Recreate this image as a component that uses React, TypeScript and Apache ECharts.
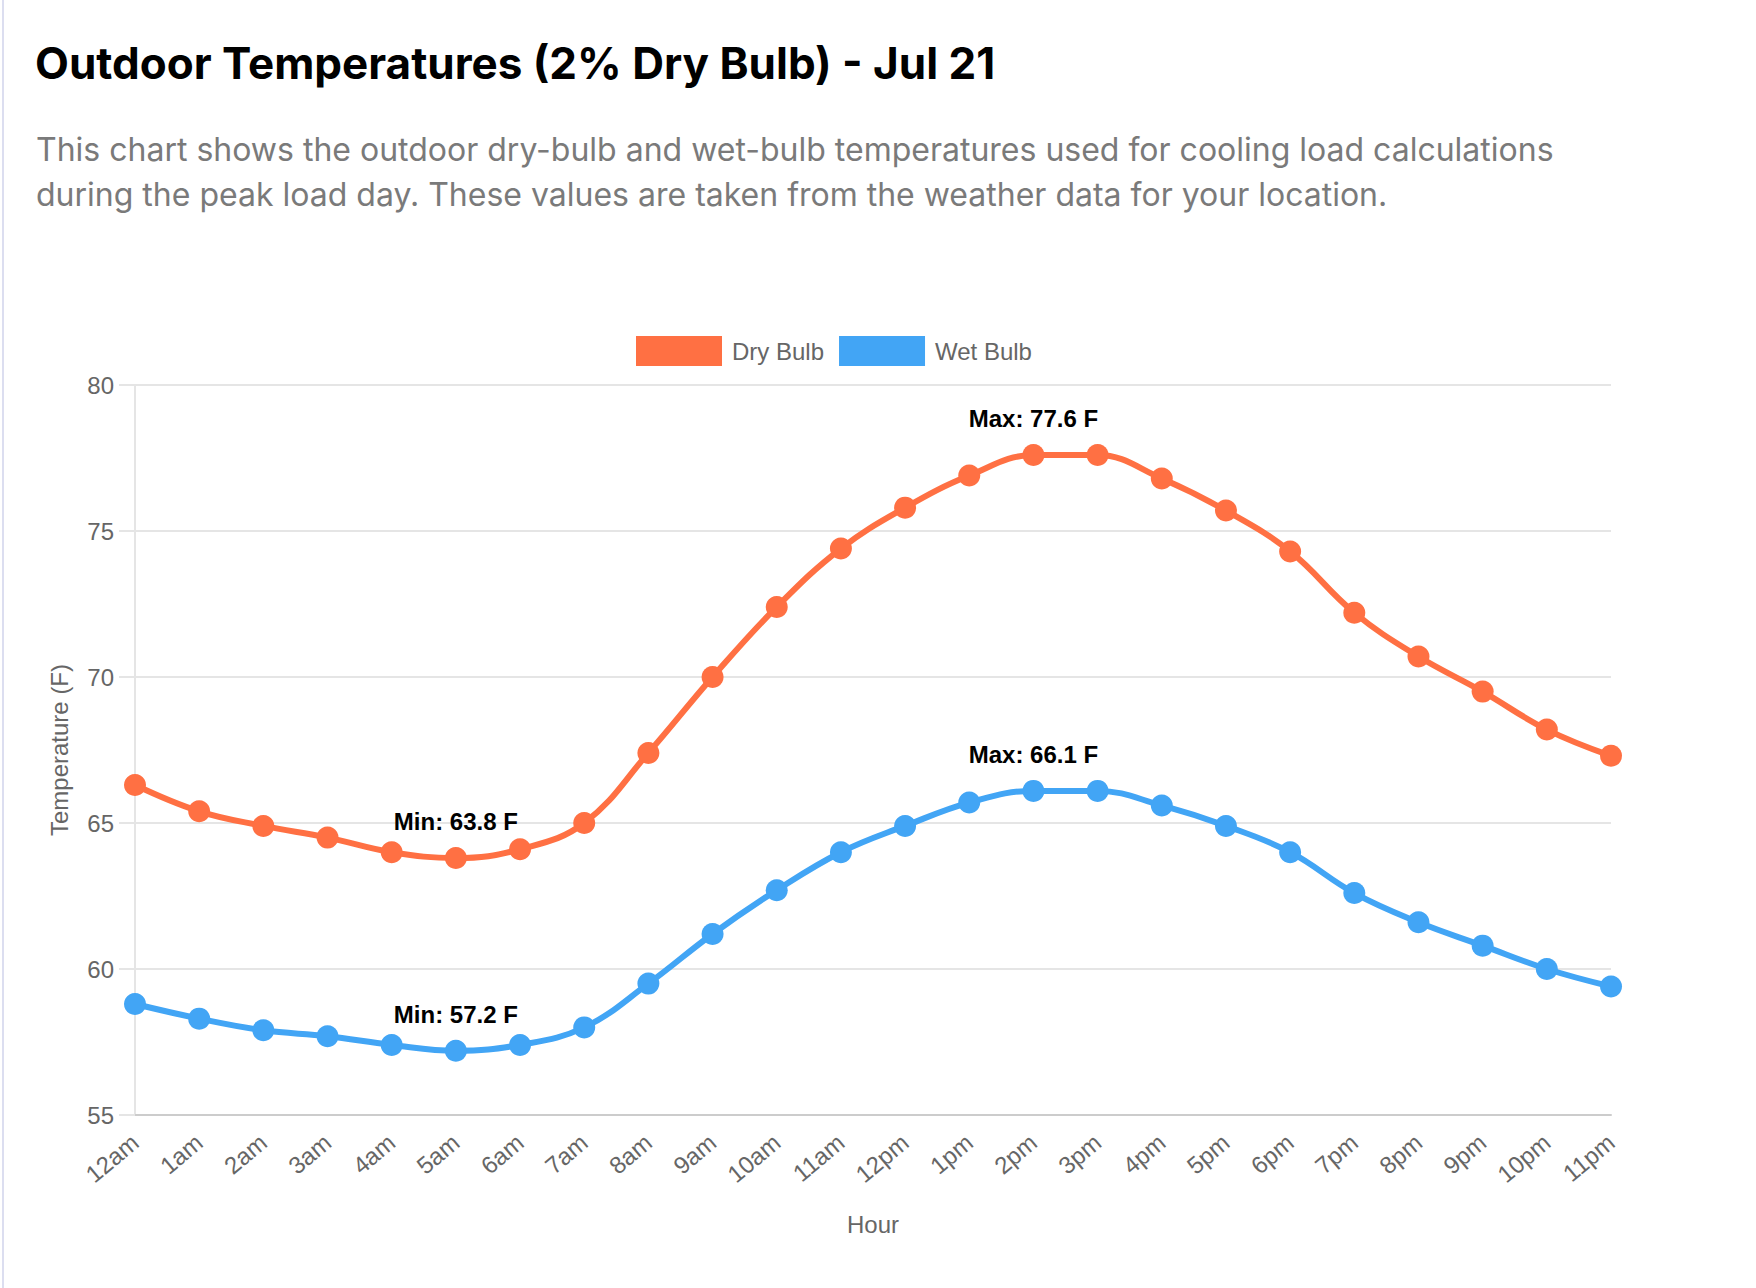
import React, { useEffect, useRef } from "react";
import * as echarts from "echarts";

const hours = ["12am","1am","2am","3am","4am","5am","6am","7am","8am","9am","10am","11am","12pm","1pm","2pm","3pm","4pm","5pm","6pm","7pm","8pm","9pm","10pm","11pm"];
const dryBulb = [66.3,65.4,64.9,64.5,64.0,63.8,64.1,65.0,67.4,70.0,72.4,74.4,75.8,76.9,77.6,77.6,76.8,75.7,74.3,72.2,70.7,69.5,68.2,67.3];
const wetBulb = [58.8,58.3,57.9,57.7,57.4,57.2,57.4,58.0,59.5,61.2,62.7,64.0,64.9,65.7,66.1,66.1,65.6,64.9,64.0,62.6,61.6,60.8,60.0,59.4];
const seriesNames = ["Dry Bulb", "Wet Bulb"];
const colors = ["#FF7043", "#42A5F5"];
const yTicks = { min: 55, max: 80, interval: 5 };

const titleText = "Outdoor Temperatures (2% Dry Bulb) - Jul 21";
const descLines = [
  "This chart shows the outdoor dry-bulb and wet-bulb temperatures used for cooling load calculations",
  "during the peak load day. These values are taken from the weather data for your location.",
];

const labelFont = "Liberation Sans, Arial, Helvetica, sans-serif";

export default function App() {
  const ref = useRef<HTMLDivElement>(null);
  useEffect(() => {
    if (!ref.current) return;
    const chart = echarts.init(ref.current, undefined, { renderer: "svg" });
    const markLabel = {
      show: true,
      position: "top",
      distance: 24,
      color: "#000",
      fontFamily: labelFont,
      fontWeight: "bold",
      fontSize: 24,
    };
    const mkSeries = (name: string, data: number[], color: string) => ({
      name,
      type: "line",
      data,
      smooth: 0.4,
      symbol: "circle",
      symbolSize: 22,
      showSymbol: true,
      lineStyle: { width: 6, color },
      itemStyle: { color },
      markPoint: {
        symbol: "circle",
        symbolSize: 1,
        itemStyle: { color: "rgba(0,0,0,0)" },
        label: {
          ...markLabel,
          formatter: (p: any) => `${p.name}: ${p.value} F`,
        },
        data: [
          { type: "max", name: "Max" },
          { type: "min", name: "Min" },
        ],
      },
    });
    chart.setOption({
      animation: false,
      backgroundColor: "#fff",
      graphic: [
        {
          type: "text",
          x: 35,
          y: 63,
          style: {
            text: titleText,
            fill: "#000",
            font: "bold 44px Inter, sans-serif",
            verticalAlign: "middle",
          },
        },
        ...descLines.map((t, i) => ({
          type: "text",
          x: 36,
          y: 149 + i * 45,
          style: {
            text: t,
            fill: "#7a7a7a",
            font: "32px Inter, sans-serif",
            verticalAlign: "middle",
          },
        })),
      ],
      legend: {
        left: 631,
        top: 331,
        itemWidth: 86,
        itemHeight: 30,
        itemGap: 15,
        icon: "rect",
        data: seriesNames.map((n, i) => ({ name: n, itemStyle: { color: colors[i] } })),
        textStyle: {
          color: "#666",
          fontSize: 24,
          fontFamily: labelFont,
          padding: [0, 0, 0, 5],
        },
      },
      grid: { left: 135, right: 145, top: 385, bottom: 173, containLabel: false },
      xAxis: {
        type: "category",
        data: hours,
        boundaryGap: false,
        name: "Hour",
        nameLocation: "middle",
        nameGap: 97,
        nameTextStyle: { color: "#666", fontSize: 24, fontFamily: labelFont },
        axisLine: { show: true, lineStyle: { color: "#cccccc", width: 2 } },
        axisTick: { show: false },
        splitLine: { show: false },
        axisLabel: {
          rotate: 40,
          margin: 24,
          color: "#666",
          fontSize: 24,
          fontFamily: labelFont,
          interval: 0,
        },
      },
      yAxis: {
        type: "value",
        min: yTicks.min,
        max: yTicks.max,
        interval: yTicks.interval,
        name: "Temperature (F)",
        nameLocation: "middle",
        nameRotate: 90,
        nameGap: 64,
        nameTextStyle: { color: "#666", fontSize: 24, fontFamily: labelFont },
        axisLine: { show: true, lineStyle: { color: "#e5e5e5", width: 2 } },
        axisTick: { show: true, length: 16, lineStyle: { color: "#e5e5e5", width: 2 } },
        splitLine: { show: true, lineStyle: { color: "#e5e5e5", width: 2 } },
        axisLabel: { margin: 21, color: "#666", fontSize: 24, fontFamily: labelFont },
      },
      series: [
        mkSeries(seriesNames[0], dryBulb, colors[0]),
        mkSeries(seriesNames[1], wetBulb, colors[1]),
      ],
    });
    return () => chart.dispose();
  }, []);
  return (
    <div style={{ position: "absolute", left: 0, top: 0, width: 1756, height: 1288, background: "#fff", overflow: "hidden" }}>
      <div ref={ref} style={{ position: "absolute", left: 0, top: 0, width: 1756, height: 1288 }} />
      <div style={{ position: "absolute", left: 2, top: 0, width: 2, height: 1288, background: "#dcdef0" }} />
    </div>
  );
}
